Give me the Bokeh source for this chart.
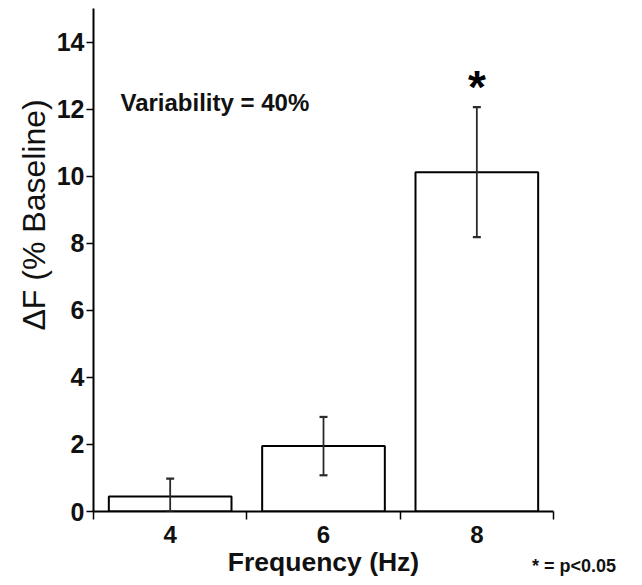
from bokeh.plotting import figure
from bokeh.models import ColumnDataSource, Whisker, Label, FixedTicker, Range1d, TeeHead, Title, Div
from bokeh.layouts import column
from bokeh.embed import file_html
from bokeh.resources import INLINE

categories = ["4", "6", "8"]
means = [0.45, 1.95, 10.12]
errors = [0.53, 0.87, 1.94]
significant = [False, False, True]
y_ticks = [0, 2, 4, 6, 8, 10, 12, 14]
y_title = "ΔF (% Baseline)"
x_title = "Frequency (Hz)"
note_text = "Variability = 40%"
legend_text = "* = p<0.05"

FONT = "Liberation Sans"
INK = "#111111"

xs = [i + 0.5 for i in range(len(categories))]
upper = [m + e for m, e in zip(means, errors)]
lower = [max(m - e, 0) for m, e in zip(means, errors)]
src = ColumnDataSource(dict(x=xs, top=means, upper=upper, lower=lower))

p = figure(width=634, height=579, output_backend="svg", toolbar_location=None,
           x_range=Range1d(0, len(categories)), y_range=Range1d(0, 15),
           min_border_left=93, min_border_right=81, min_border_top=8, min_border_bottom=65)
p.outline_line_color = None
p.grid.visible = False
p.background_fill_color = "white"
p.border_fill_color = "white"

p.vbar(x="x", top="top", width=0.8, bottom=0, source=src,
       fill_color="white", line_color="black", line_width=2)

w = Whisker(source=src, base="x", upper="upper", lower="lower", level="overlay",
            line_color="#2a2a2a", line_width=1.8,
            upper_head=TeeHead(size=8, line_color="#2a2a2a", line_width=2.2),
            lower_head=TeeHead(size=8, line_color="#2a2a2a", line_width=2.2))
p.add_layout(w)

# significance asterisk
for x, u, s in zip(xs, upper, significant):
    if s:
        p.add_layout(Label(x=x, y=u + 0.6, text="*", text_align="center",
                           text_baseline="alphabetic", text_font=FONT, text_color="black",
                           text_font_style="bold", text_font_size="46px"))

p.add_layout(Label(x=0.176, y=12.2, text=note_text, text_align="left",
                   text_baseline="middle", text_font=FONT, text_font_style="bold",
                   text_color=INK, text_font_size="24px"))

# y-axis title as a side title (shifted upward like the reference)
p.add_layout(Title(text=y_title, align="left", offset=181, standoff=4,
                   text_font=FONT, text_font_style="normal", text_font_size="32px",
                   text_color=INK), "left")

# y axis
p.yaxis.ticker = FixedTicker(ticks=y_ticks)
p.yaxis.major_label_text_font = FONT
p.yaxis.major_label_text_font_style = "bold"
p.yaxis.major_label_text_font_size = "25px"
p.yaxis.major_label_text_color = INK
p.yaxis.major_label_standoff = 2
p.yaxis.major_tick_out = 7
p.yaxis.major_tick_in = 0
p.yaxis.minor_tick_line_color = None
p.yaxis.axis_line_width = 2
p.yaxis.major_tick_line_width = 1.5

# x axis: labels at centres, ticks at category boundaries
p.xaxis.ticker = FixedTicker(ticks=xs, minor_ticks=list(range(len(categories) + 1)))
p.xaxis.major_label_overrides = {x: c for x, c in zip(xs, categories)}
p.xaxis.major_tick_out = 0
p.xaxis.major_tick_in = 0
p.xaxis.minor_tick_out = 8
p.xaxis.minor_tick_in = 0
p.xaxis.minor_tick_line_width = 1.5
p.xaxis.axis_line_width = 2
p.xaxis.major_label_text_font = FONT
p.xaxis.major_label_text_font_style = "bold"
p.xaxis.major_label_text_font_size = "24px"
p.xaxis.major_label_text_color = INK
p.xaxis.major_label_standoff = 6
p.xaxis.axis_label = x_title
p.xaxis.axis_label_text_font = FONT
p.xaxis.axis_label_text_font_style = "bold"
p.xaxis.axis_label_text_font_size = "26.5px"
p.xaxis.axis_label_text_color = INK
p.xaxis.axis_label_standoff = 1

# significance legend beside the x-axis title (outside the plot frame)
note = Div(text=legend_text, width=100, height=22, margin=(-24, 0, 0, 532),
           styles={"font-family": FONT, "font-weight": "bold", "font-size": "18px",
                   "color": INK, "white-space": "nowrap", "line-height": "22px"})

layout = column(p, note, spacing=0)

open("out.html", "w").write(file_html(layout, INLINE))
